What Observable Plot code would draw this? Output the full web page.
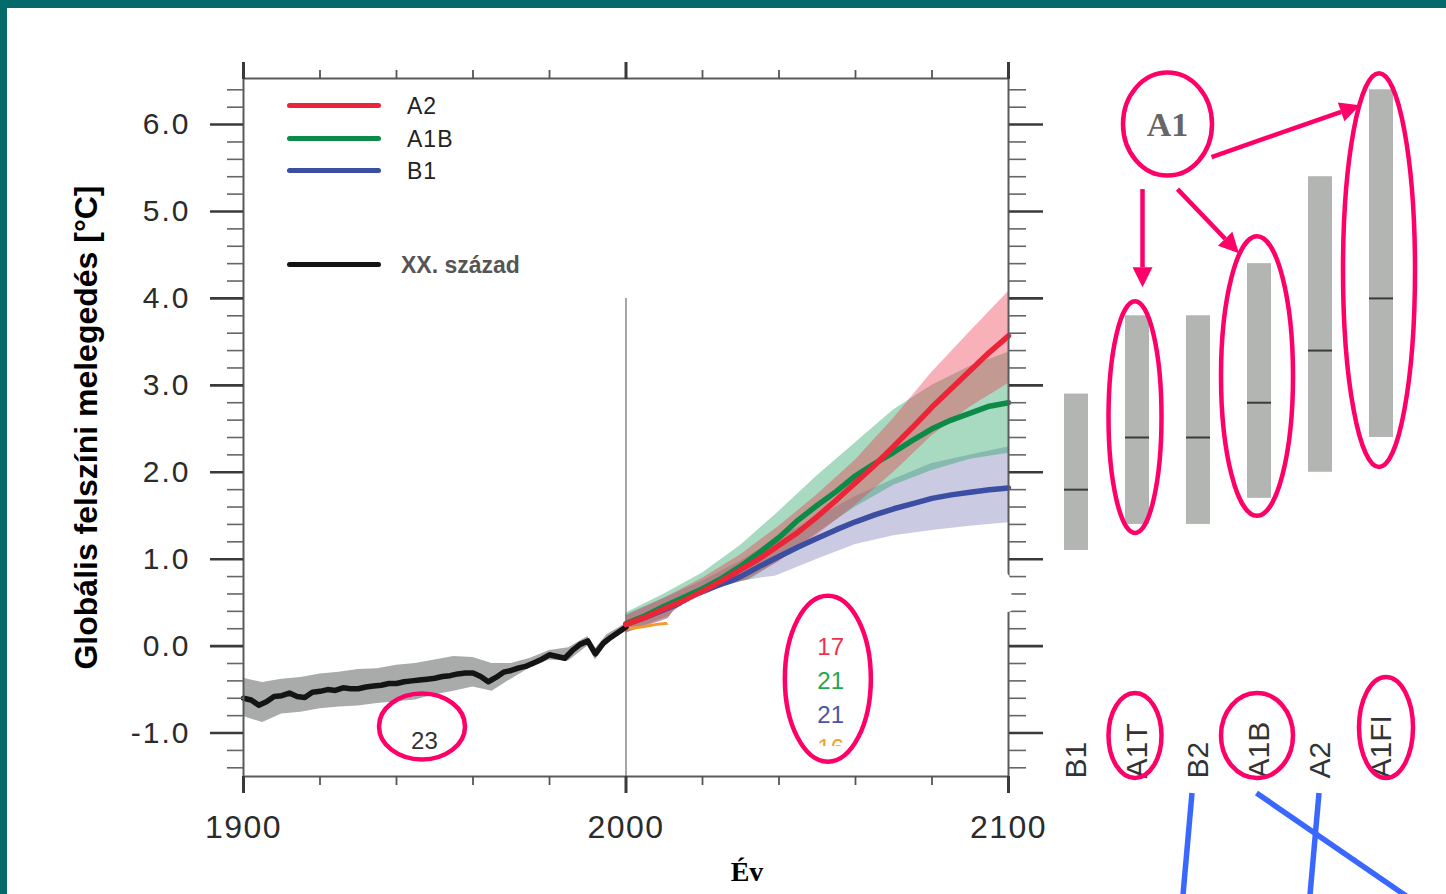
<!DOCTYPE html>
<html lang="hu">
<head>
<meta charset="utf-8">
<title>Globális felszíni melegedés</title>
<script src="https://cdn.jsdelivr.net/npm/d3@7"></script>
<script src="https://cdn.jsdelivr.net/npm/@observablehq/plot@0.6"></script>
<style>
  html, body { margin: 0; padding: 0; background: #fff; }
  #page { position: relative; width: 1446px; height: 894px; overflow: hidden; background: #fff;
          font-family: "Liberation Sans", Arial, Helvetica, sans-serif; }
  #page > svg { position: absolute; top: 0; }
  .edge { position: absolute; background: #04696a; z-index: 10; }
  .key { position: absolute; height: 5px; border-radius: 3px; }
  .key-label { position: absolute; font-size: 23px; line-height: 1; transform: translateY(-50%); color: #222; letter-spacing: 1px; white-space: nowrap; }
  .key-label.hist { font-weight: bold; color: #555; letter-spacing: 0; font-size: 23px; }
  svg [aria-label="y-axis tick label"] { letter-spacing: 2px; }
  svg [aria-label="x-axis tick label"] { letter-spacing: 1.5px; }
</style>
</head>
<body>
<div id="page"></div>
<script>
// ---- 20th century: multi-model mean and spread (°C) ----
const histYears = [1900,1902,1904,1906,1908,1910,1912,1914,1916,1918,1920,1922,1924,1926,1928,1930,1932,1934,1936,1938,1940,1942,1944,1946,1948,1950,1952,1954,1956,1958,1960,1962,1964,1966,1968,1970,1972,1974,1976,1978,1980,1982,1984,1986,1988,1990,1992,1994,1996,1998,2000];
const histMean  = [-0.60,-0.62,-0.68,-0.64,-0.58,-0.57,-0.54,-0.58,-0.59,-0.53,-0.52,-0.50,-0.51,-0.48,-0.49,-0.49,-0.47,-0.46,-0.45,-0.43,-0.43,-0.41,-0.40,-0.39,-0.38,-0.37,-0.35,-0.34,-0.32,-0.31,-0.31,-0.35,-0.41,-0.36,-0.30,-0.28,-0.25,-0.23,-0.19,-0.15,-0.10,-0.12,-0.14,-0.05,0.02,0.06,-0.09,0.03,0.10,0.16,0.22];
const histBandYears = [1900,1905,1910,1915,1920,1925,1930,1935,1940,1945,1950,1955,1960,1965,1970,1975,1980,1985,1990,1992,1995,2000];
const histHi = [-0.37,-0.42,-0.38,-0.36,-0.32,-0.30,-0.27,-0.26,-0.22,-0.20,-0.16,-0.12,-0.13,-0.20,-0.20,-0.14,-0.05,-0.02,0.11,-0.03,0.13,0.26];
const histLo = [-0.81,-0.88,-0.78,-0.76,-0.72,-0.70,-0.69,-0.66,-0.64,-0.62,-0.56,-0.52,-0.47,-0.52,-0.38,-0.25,-0.16,-0.17,0.00,-0.16,0.03,0.17];

// ---- 21st century scenario means (°C) ----
const projYears = [2000,2005,2010,2015,2020,2025,2030,2035,2040,2045,2050,2055,2060,2065,2070,2075,2080,2085,2090,2095,2100];
const a2Mean  = [0.25,0.33,0.43,0.52,0.63,0.75,0.88,1.01,1.16,1.31,1.49,1.68,1.88,2.08,2.30,2.52,2.75,2.96,3.17,3.38,3.57];
const a1bMean = [0.26,0.35,0.46,0.56,0.66,0.78,0.92,1.08,1.25,1.45,1.62,1.78,1.96,2.10,2.23,2.37,2.50,2.60,2.68,2.76,2.80];
const b1Mean  = [0.25,0.33,0.42,0.51,0.60,0.70,0.80,0.92,1.03,1.14,1.24,1.34,1.43,1.51,1.58,1.64,1.70,1.74,1.77,1.80,1.82];

// ---- ±1 standard deviation ranges ----
const bandYears = [2000,2010,2020,2030,2040,2050,2060,2070,2080,2090,2100];
const a2Lo  = [0.15,0.30,0.50,0.72,0.97,1.28,1.62,2.00,2.42,2.75,3.02];
const a2Hi  = [0.35,0.55,0.78,1.05,1.38,1.74,2.14,2.62,3.15,3.62,4.08];
const a1bLo = [0.15,0.32,0.48,0.70,0.98,1.30,1.60,1.85,2.02,2.15,2.22];
const a1bHi = [0.38,0.60,0.84,1.16,1.55,1.96,2.34,2.72,3.00,3.22,3.38];
const b1Lo  = [0.15,0.30,0.45,0.62,0.82,1.00,1.17,1.27,1.33,1.38,1.42];
const b1Hi  = [0.36,0.55,0.75,0.98,1.25,1.48,1.72,1.92,2.10,2.20,2.29];

// ---- constant-composition run (only its start stays visible) ----
const commitYears = [2000,2004,2008,2012];
const commitMean  = [0.20,0.22,0.25,0.27];

// ---- white cover shape over the lower projections ----
const coverYears = [2010.6,2012.5,2016,2022,2030,2040,2050,2070,2099.5,2100.9];
const coverTop   = [0.28,0.40,0.50,0.62,0.74,0.81,0.84,0.84,0.84,0.72];
const coverBase  = [0.28,0.19,0.16,0.16,0.16,0.18,0.22,0.30,0.38,0.40];

// ---- number of models per experiment ----
const modelCounts = ["23","17","21","21","16"];

// ---- 2100 warming: likely range and best estimate per SRES scenario ----
const scenarios    = ["B1","A1T","B2","A1B","A2","A1FI"];
const likelyLow    = [1.1,1.4,1.4,1.7,2.0,2.4];
const likelyHigh   = [2.9,3.8,3.8,4.4,5.4,6.4];
const bestEstimate = [1.8,2.4,2.4,2.8,3.4,4.0];

// ---- axis ticks ----
const yMajor = [-1,0,1,2,3,4,5,6];
const yMinor = [-1.4,-1.2,-0.8,-0.6,-0.4,-0.2,0.2,0.4,0.6,0.8,1.2,1.4,1.6,1.8,2.2,2.4,2.6,2.8,3.2,3.4,3.6,3.8,4.2,4.4,4.6,4.8,5.2,5.4,5.6,5.8,6.2,6.4];
const xMajor = [1900,2000,2100];
const xMinor = [1920,1940,1960,1980,2020,2040,2060,2080];

// ---- legend ----
const legendNames = ["A2","A1B","B1"];
const histLabel = "XX. század";

const RED = "#ec2438", GREEN = "#0c8a47", BLUE = "#3c4ea2", BLACK = "#141414";
const yDomain = [-1.5, 6.53];
const H = 894, mTop = 78, mBottom = 118;
const font = "Liberation Sans, Arial, Helvetica, sans-serif";

const page = document.getElementById("page");

const main = Plot.plot({
  width: 1060, height: H,
  marginLeft: 243, marginRight: 52, marginTop: mTop, marginBottom: mBottom,
  x: {domain: [1900, 2100]},
  y: {domain: yDomain},
  style: {background: "transparent", fontFamily: font, overflow: "visible"},
  marks: [
    Plot.ruleX([2000], {y1: -1.5, y2: 4.0, stroke: "#777", strokeWidth: 1.3}),
    Plot.areaY(histBandYears, {x: histBandYears, y1: histLo, y2: histHi, fill: "#a8abaa"}),
    Plot.areaY(bandYears, {x: bandYears, y1: b1Lo, y2: b1Hi, fill: "#6c6cae", fillOpacity: 0.36}),
    Plot.areaY(bandYears, {x: bandYears, y1: a1bLo, y2: a1bHi, fill: "#23a262", fillOpacity: 0.4}),
    Plot.areaY(bandYears, {x: bandYears, y1: a2Lo, y2: a2Hi, fill: "#ee3346", fillOpacity: 0.38}),
    Plot.lineY(commitYears, {x: commitYears, y: commitMean, stroke: "#f29a2e", strokeWidth: 3}),
    Plot.lineY(histYears, {x: histYears, y: histMean, stroke: BLACK, strokeWidth: 5.5}),
    Plot.lineY(projYears, {x: projYears, y: b1Mean, stroke: BLUE, strokeWidth: 5.5}),
    Plot.lineY(projYears, {x: projYears, y: a1bMean, stroke: GREEN, strokeWidth: 5.5}),
    Plot.lineY(projYears, {x: projYears, y: a2Mean, stroke: RED, strokeWidth: 5.5}),
    Plot.frame({stroke: "#5a5a5a", strokeWidth: 2}),
    Plot.axisY({anchor: "left", ticks: yMajor, tickSize: 33, tickPadding: 20, tickFormat: d => d.toFixed(1),
                fontSize: 30, color: "#2b2b2b", stroke: "#3a3a3a", strokeWidth: 2.6, label: null}),
    Plot.axisY({anchor: "left", ticks: yMinor, tickSize: 16, tickFormat: () => "", stroke: "#666", strokeWidth: 1.6, label: null}),
    Plot.axisY({anchor: "right", ticks: yMajor, tickSize: 34, tickFormat: () => "", stroke: "#3a3a3a", strokeWidth: 2.6, label: null}),
    Plot.axisY({anchor: "right", ticks: yMinor, tickSize: 17, tickFormat: () => "", stroke: "#666", strokeWidth: 1.6, label: null}),
    Plot.axisX({anchor: "bottom", ticks: xMajor, tickSize: 17, tickPadding: 22, tickFormat: d => String(d),
                fontSize: 32, color: "#2b2b2b", stroke: "#3a3a3a", strokeWidth: 3, label: null}),
    Plot.axisX({anchor: "bottom", ticks: xMinor, tickSize: 9, tickFormat: () => "", stroke: "#555", strokeWidth: 1.8, label: null}),
    Plot.axisX({anchor: "top", ticks: xMajor, tickSize: 17, tickFormat: () => "", stroke: "#3a3a3a", strokeWidth: 3, label: null}),
    Plot.axisX({anchor: "top", ticks: xMinor, tickSize: 9, tickFormat: () => "", stroke: "#555", strokeWidth: 1.8, label: null}),
    Plot.areaY(coverYears, {x: coverYears, y1: coverBase, y2: coverTop, fill: "#fff", curve: "catmull-rom"}),
    Plot.text([modelCounts[0]], {x: 1947.3, y: -1.09, text: d => d, fontSize: 24, fill: "#333", lineAnchor: "middle"}),
    Plot.text([modelCounts[1]], {x: 2053.5, y: -0.01, text: d => d, fontSize: 24, fill: "#ec3350", lineAnchor: "middle"}),
    Plot.text([modelCounts[2]], {x: 2053.5, y: -0.41, text: d => d, fontSize: 24, fill: "#1fa653", lineAnchor: "middle"}),
    Plot.text([modelCounts[3]], {x: 2053.5, y: -0.80, text: d => d, fontSize: 24, fill: "#4a55a8", lineAnchor: "middle"}),
    Plot.text([modelCounts[4]], {x: 2053.5, y: -1.18, text: d => d, fontSize: 24, fill: "#f5a030", lineAnchor: "middle"}),
    Plot.text(["Globális felszíni melegedés [°C]"], {frameAnchor: "left", rotate: -90, dx: -157, text: d => d,
                fontSize: 32, fontWeight: "bold", fill: "#000", textAnchor: "middle", lineAnchor: "middle"}),
    Plot.text(["Év"], {frameAnchor: "bottom", dx: 121, dy: 96, text: d => d, fontSize: 28, fontWeight: "bold",
                fontFamily: "Liberation Serif, Times New Roman, serif", fill: "#000", lineAnchor: "middle"})
  ]
});
main.style.left = "0px";
page.appendChild(main);

// the last model count is cut off below its top edge
{
  const svg = d3.select(main);
  const cut = svg.append("defs").append("clipPath").attr("id", "count-cut");
  cut.append("rect").attr("x", 0).attr("y", 0).attr("width", 1060).attr("height", main.scale("y").apply(-1.16) - 1);
  svg.selectAll("text").filter(function () { return this.textContent === modelCounts[4]; })
     .each(function () { this.parentNode.setAttribute("clip-path", "url(#count-cut)"); });
}

const panelLeft = 1040;
const panel = Plot.plot({
  width: 406, height: H,
  marginLeft: 4, marginRight: 32, marginTop: mTop, marginBottom: mBottom,
  x: {type: "band", domain: scenarios, paddingInner: 0.6, paddingOuter: 0.3, axis: null},
  y: {domain: yDomain, axis: null},
  style: {background: "transparent", fontFamily: font, overflow: "visible"},
  marks: [
    Plot.barY(scenarios, {x: scenarios, y1: likelyLow, y2: likelyHigh, fill: "#b3b5b3"}),
    Plot.tickY(scenarios, {x: scenarios, y: bestEstimate, stroke: "#3a3a3a", strokeWidth: 2}),
    Plot.text(scenarios, {x: scenarios, text: scenarios, frameAnchor: "bottom", rotate: -90, dy: 2,
                          textAnchor: "start", lineAnchor: "middle", fontSize: 30, fill: "#333"})
  ]
});
panel.style.left = panelLeft + "px";
page.appendChild(panel);

// legend drawn inside the plot frame
const legendColors = [RED, GREEN, BLUE];
const legendRows = [105, 138, 170];
legendNames.forEach((name, i) => {
  const k = document.createElement("div");
  k.className = "key";
  Object.assign(k.style, {left: "287px", width: "94px", top: (legendRows[i] - 2.5) + "px", background: legendColors[i]});
  page.appendChild(k);
  const t = document.createElement("div");
  t.className = "key-label";
  t.textContent = name;
  Object.assign(t.style, {left: "407px", top: (legendRows[i] + 1) + "px"});
  page.appendChild(t);
});
{
  const k = document.createElement("div");
  k.className = "key";
  Object.assign(k.style, {left: "287px", width: "94px", top: "262px", background: BLACK});
  page.appendChild(k);
  const t = document.createElement("div");
  t.className = "key-label hist";
  t.textContent = histLabel;
  Object.assign(t.style, {left: "401px", top: "265px"});
  page.appendChild(t);
}

// hand-drawn highlights
const ov = d3.select(page).append("svg")
  .attr("width", 1446).attr("height", H)
  .style("left", "0px").style("pointer-events", "none");
const PINK = "#fe0068";
const mX = main.scale("x"), mY = main.scale("y");
const pX = panel.scale("x"), pY = panel.scale("y");
const bandCenter = c => panelLeft + pX.apply(c) + pX.bandwidth / 2;
const ring = (cx, cy, rx, ry) => ov.append("ellipse")
  .attr("cx", cx).attr("cy", cy).attr("rx", rx).attr("ry", ry)
  .attr("fill", "none").attr("stroke", PINK).attr("stroke-width", 4.5);

ring(mX.apply(1946.8), mY.apply(-0.93), 43, 33);
ring(mX.apply(2052.9), mY.apply(-0.38), 43, 83);

// rings around the A1 family ranges: [scenario, pad above, pad below, half width]
const rangeRings = {};
[["A1T", 14, 9, 26.5], ["A1B", 27, 18, 36], ["A1FI", 16, 30, 36]].forEach(([c, padTop, padBottom, rx]) => {
  const i = scenarios.indexOf(c);
  const top = pY.apply(likelyHigh[i]) - padTop, bottom = pY.apply(likelyLow[i]) + padBottom;
  const cx = bandCenter(c) - 2;
  ring(cx, (top + bottom) / 2, rx, (bottom - top) / 2);
  rangeRings[c] = {cx, top};
});

// rings around their labels
const labelBase = pY.apply(yDomain[0]) + 2;
[["A1T", 26.5, 42.5], ["A1B", 36, 42.5], ["A1FI", 27, 50.5]].forEach(([c, rx, ry]) => {
  ring(bandCenter(c) + (c === "A1FI" ? 5 : -2), labelBase - ry, rx, ry);
});

// the A1 family badge with arrows to its members
const a1x = (bandCenter("A1T") + bandCenter("B2")) / 2, a1y = mY.apply(6.0);
ring(a1x, a1y, 44.5, 51.5);
ov.append("text").attr("x", a1x).attr("y", a1y).attr("dy", "0.35em")
  .attr("text-anchor", "middle").attr("font-family", "Liberation Serif, Times New Roman, serif")
  .attr("font-weight", "bold").attr("font-size", 34).attr("fill", "#666").text("A1");

const arrow = (x1, y1, x2, y2) => {
  const a = Math.atan2(y2 - y1, x2 - x1), L = 20, w = 10;
  const bx = x2 - L * Math.cos(a), by = y2 - L * Math.sin(a);
  ov.append("line").attr("x1", x1).attr("y1", y1).attr("x2", bx).attr("y2", by)
    .attr("stroke", PINK).attr("stroke-width", 4.5);
  ov.append("path").attr("fill", PINK)
    .attr("d", `M${x2},${y2}L${bx - w * Math.sin(a)},${by + w * Math.cos(a)}L${bx + w * Math.sin(a)},${by - w * Math.cos(a)}Z`);
};
arrow(a1x - 25, a1y + 65, a1x - 25, rangeRings.A1T.top - 14);
arrow(a1x + 10, a1y + 65, rangeRings.A1B.cx - 18, rangeRings.A1B.top + 17);
arrow(a1x + 44, a1y + 33, rangeRings.A1FI.cx - 19, rangeRings.A1FI.top + 32);

// blue connector strokes leaving the bottom edge
const BLUE_LINK = "#3a68ff";
const linkTop = labelBase + 15;
[["B2", -6, -9], ["A2", -1, -9], ["A1B", -2.5, 148]].forEach(([c, off, run]) => {
  const x = bandCenter(c) + off;
  ov.append("line").attr("x1", x).attr("y1", linkTop).attr("x2", x + run * 1.1).attr("y2", linkTop + 112)
    .attr("stroke", BLUE_LINK).attr("stroke-width", 5.5);
});

// page edges
[{left: "0px", top: "0px", width: "1446px", height: "8px"}, {left: "0px", top: "0px", width: "7px", height: "894px"}]
  .forEach(s => { const e = document.createElement("div"); e.className = "edge"; Object.assign(e.style, s); page.appendChild(e); });
</script>
</body>
</html>
